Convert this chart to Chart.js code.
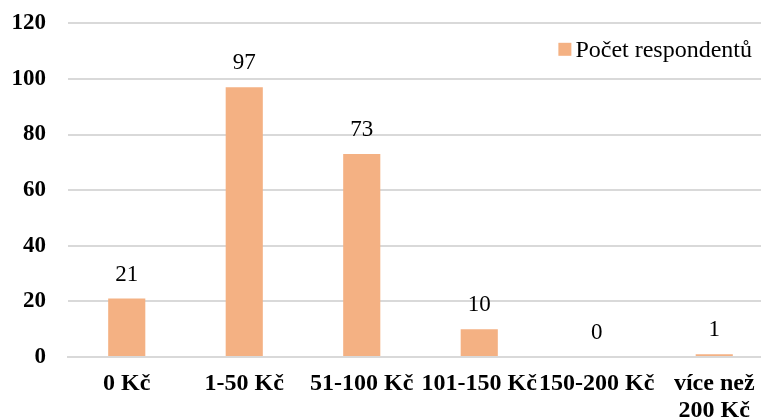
<!DOCTYPE html>
<html>
<head>
<meta charset="utf-8">
<script src="https://cdn.jsdelivr.net/npm/chart.js@4/dist/chart.umd.min.js"></script>
<style>
  html, body { margin: 0; padding: 0; background: #ffffff; overflow: hidden; }
  #wrap { width: 773px; height: 420px; }
</style>
</head>
<body>
<div id="wrap"><canvas id="chart" width="773" height="420"></canvas></div>
<script>
// Amount spent per respondent (price bands) and number of respondents in each band
const categories = ['0 Kč', '1-50 Kč', '51-100 Kč', '101-150 Kč', '150-200 Kč', ['více než', '200 Kč']];
const respondents = [21, 97, 73, 10, 0, 1];
const seriesName = 'Počet respondentů';
const yMin = 0;
const yMax = 120;
const yStep = 20;

const BAR_COLOR = '#F4B183';
const GRID_COLOR = '#d9d9d9';
const SERIF = '"Liberation Serif", "Times New Roman", serif';

// Value labels above each bar
const valueLabels = {
  id: 'valueLabels',
  afterDatasetsDraw(chart) {
    const ctx = chart.ctx;
    const meta = chart.getDatasetMeta(0);
    ctx.save();
    ctx.font = '23px ' + SERIF;
    ctx.fillStyle = '#000000';
    ctx.textAlign = 'center';
    ctx.textBaseline = 'alphabetic';
    meta.data.forEach((bar, i) => {
      ctx.fillText(String(chart.data.datasets[0].data[i]), bar.x, bar.y - 18);
    });
    ctx.restore();
  }
};

// Legend drawn inside the plot area, top right
const innerLegend = {
  id: 'innerLegend',
  afterDraw(chart) {
    const ctx = chart.ctx;
    const area = chart.chartArea;
    const ds = chart.data.datasets[0];
    ctx.save();
    ctx.font = '24px ' + SERIF;
    const textW = ctx.measureText(ds.label).width;
    const textRight = area.right - 21;
    const textX = textRight - textW;
    const cy = area.top + 26;
    const box = 13;
    ctx.fillStyle = ds.backgroundColor;
    ctx.fillRect(textX - 4 - box, cy - box / 2, box, box);
    ctx.fillStyle = '#000000';
    ctx.textAlign = 'left';
    ctx.textBaseline = 'middle';
    ctx.fillText(ds.label, textX, cy + 1);
    ctx.restore();
  }
};

new Chart(document.getElementById('chart'), {
  type: 'bar',
  data: {
    labels: categories,
    datasets: [{
      label: seriesName,
      data: respondents,
      backgroundColor: BAR_COLOR,
      borderWidth: 0,
      categoryPercentage: 1,
      barPercentage: 0.316
    }]
  },
  options: {
    responsive: false,
    animation: false,
    devicePixelRatio: 1,
    layout: { padding: 0 },
    plugins: {
      legend: { display: false },
      tooltip: { enabled: false }
    },
    scales: {
      x: {
        grid: { display: false, drawTicks: false },
        border: { display: true, color: GRID_COLOR, width: 2 },
        ticks: {
          color: '#000000',
          font: { family: SERIF, size: 24, weight: 'bold', lineHeight: 1.1 },
          padding: 14,
          maxRotation: 0,
          autoSkip: false
        },
        afterFit(scale) { scale.height = 63; }
      },
      y: {
        min: yMin,
        max: yMax,
        grid: { color: GRID_COLOR, lineWidth: 2, drawTicks: false },
        border: { display: false },
        ticks: {
          stepSize: yStep,
          color: '#000000',
          font: { family: SERIF, size: 23, weight: 'bold' },
          padding: 22
        },
        afterFit(scale) {
          scale.width = 68;
          scale.paddingTop = 23.3;
          scale.paddingBottom = 0;
        }
      }
    }
  },
  plugins: [valueLabels, innerLegend]
});
</script>
</body>
</html>
